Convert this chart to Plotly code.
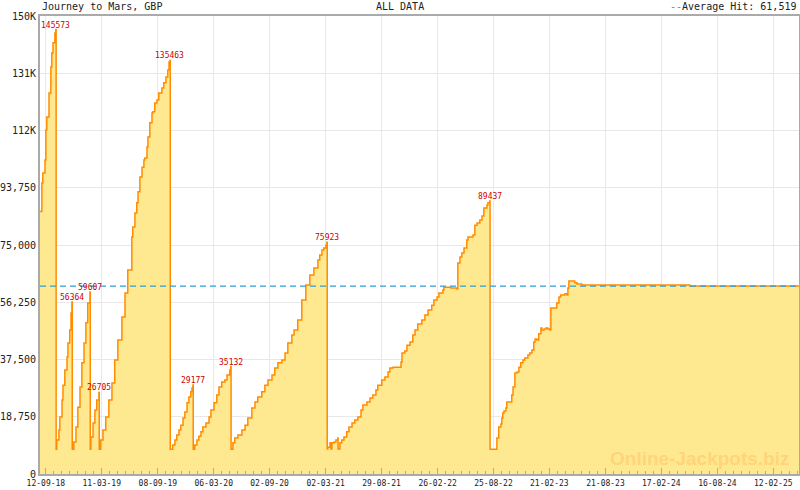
import plotly.graph_objects as go

# ---------------- data ----------------
cycle1_dates = ["2018-08-24", "2018-08-30", "2018-09-02", "2018-09-09", "2018-09-12", "2018-09-15",
                "2018-09-22", "2018-09-28", "2018-10-01", "2018-10-05", "2018-10-11", "2018-10-14"]
cycle1_vals = [86000, 95300, 98600, 102800, 112700, 116900, 124800, 133300, 137900, 141200, 144400, 145573]

cycle2_dates = ["2018-10-15", "2018-10-17", "2018-10-24", "2018-10-27", "2018-11-03", "2018-11-06",
                "2018-11-12", "2018-11-19", "2018-11-22", "2018-11-28", "2018-12-02", "2018-12-05"]
cycle2_vals = [8100, 11100, 14400, 18700, 24200, 29100, 34100, 38300, 42900, 47200, 52700, 56364]

cycle3_dates = ["2018-12-06", "2018-12-11", "2018-12-18", "2018-12-24", "2018-12-31", "2019-01-06",
                "2019-01-13", "2019-01-19", "2019-01-25", "2019-02-01"]
cycle3_vals = [8100, 10500, 15400, 21900, 28500, 36400, 42900, 49500, 56000, 59607]

cycle4_dates = ["2019-02-02", "2019-02-04", "2019-02-11", "2019-02-17", "2019-02-23", "2019-03-02"]
cycle4_vals = [8100, 12100, 16700, 21000, 24200, 26705]

cycle5_dates = ["2019-03-03", "2019-03-08", "2019-03-15", "2019-03-24", "2019-04-03", "2019-04-13",
                "2019-04-22", "2019-05-02", "2019-05-15", "2019-05-25", "2019-06-03", "2019-06-16",
                "2019-06-19", "2019-06-26", "2019-07-02", "2019-07-06", "2019-07-12", "2019-07-19",
                "2019-07-25", "2019-07-28", "2019-08-04", "2019-08-07", "2019-08-13", "2019-08-20",
                "2019-08-23", "2019-08-29", "2019-09-05", "2019-09-11", "2019-09-21", "2019-09-27",
                "2019-10-04", "2019-10-10", "2019-10-14", "2019-10-17"]
cycle5_vals = [8100, 11100, 14400, 18700, 24200, 29800, 37300, 43900, 51400, 59300, 66800, 77600,
               80900, 85500, 88800, 92400, 97300, 100500, 102800, 103500, 107100, 110400, 115000, 118200,
               118600, 121500, 122500, 124800, 126400, 128100, 130000, 132300, 134900, 135463]

cycle6_dates = ["2019-10-18", "2019-10-26", "2019-11-02", "2019-11-08", "2019-11-15", "2019-11-21",
                "2019-11-28", "2019-12-04", "2019-12-11", "2019-12-17", "2019-12-23", "2019-12-27",
                "2019-12-30"]
cycle6_vals = [8100, 9500, 11100, 12800, 14400, 16000, 18300, 20300, 23300, 25200, 26900, 28200, 29177]

cycle7_dates = ["2019-12-31", "2020-01-05", "2020-01-12", "2020-01-18", "2020-01-25", "2020-01-31",
                "2020-02-10", "2020-02-20", "2020-02-26", "2020-03-07", "2020-03-16", "2020-03-23",
                "2020-04-01", "2020-04-11", "2020-04-18", "2020-04-27", "2020-04-30"]
cycle7_vals = [8100, 9500, 11100, 12400, 13800, 15400, 16700, 18700, 21000, 23300, 25900, 28500,
               30100, 30800, 32400, 34100, 35132]

cycle8_dates = ["2020-05-01", "2020-05-07", "2020-05-13", "2020-05-23", "2020-06-05", "2020-06-15",
                "2020-06-24", "2020-07-07", "2020-07-17", "2020-07-26", "2020-08-08", "2020-08-18",
                "2020-08-28", "2020-09-10", "2020-09-19", "2020-09-29", "2020-10-12", "2020-10-22",
                "2020-10-31", "2020-11-13", "2020-11-20", "2020-12-02", "2020-12-15", "2020-12-28",
                "2021-01-10", "2021-01-23", "2021-02-05", "2021-02-11", "2021-02-18", "2021-02-24",
                "2021-03-03", "2021-03-06"]
cycle8_vals = [8100, 10200, 11800, 12800, 14400, 16000, 18300, 21600, 23600, 25200, 26900, 29100,
               30800, 32400, 34700, 36400, 37300, 39600, 42900, 45500, 47200, 50400, 57000, 61900,
               65200, 67500, 70100, 71700, 73400, 74000, 75000, 75923]

cycle9_dates = ["2021-03-07", "2021-03-09", "2021-03-16", "2021-03-19", "2021-03-22", "2021-03-29",
                "2021-04-04", "2021-04-10", "2021-04-11", "2021-04-17", "2021-04-23", "2021-04-30",
                "2021-05-09", "2021-05-16", "2021-05-26", "2021-06-04", "2021-06-14", "2021-06-24",
                "2021-06-30", "2021-07-13", "2021-07-23", "2021-08-01", "2021-08-11", "2021-08-17",
                "2021-08-30", "2021-09-09", "2021-09-19", "2021-09-25", "2021-10-05", "2021-10-31",
                "2021-11-03", "2021-11-12", "2021-11-19", "2021-11-29", "2021-12-08", "2021-12-15",
                "2021-12-24", "2022-01-06", "2022-01-16", "2022-01-26", "2022-02-07", "2022-02-14",
                "2022-02-24", "2022-03-02", "2022-03-15", "2022-03-18", "2022-04-10", "2022-04-29",
                "2022-05-02", "2022-05-09", "2022-05-15", "2022-05-22", "2022-05-31", "2022-06-04",
                "2022-06-20", "2022-06-26", "2022-07-03", "2022-07-12", "2022-07-19", "2022-07-25",
                "2022-08-04", "2022-08-07", "2022-08-13"]
cycle9_vals = [8200, 8800, 10200, 8200, 10200, 10500,
               11100, 11800, 8200, 10200, 11100, 12100,
               13800, 15400, 16700, 17700, 18700, 21000,
               22600, 23600, 24900, 25900, 27500, 29100,
               30800, 31800, 33400, 34700, 35000, 36700,
               39600, 40300, 42200, 43200, 45500, 47200,
               49100, 50400, 52100, 53700, 55300, 57000,
               58000, 59300, 60300, 61200, 60900, 60600,
               69100, 71100, 72400, 74000, 76600, 77600,
               78300, 81500, 82200, 83200, 84500, 87100,
               88100, 88800, 89437]

cycle10_dates = ["2022-08-14", "2022-09-05", "2022-09-11", "2022-09-18", "2022-09-21", "2022-09-24",
                 "2022-09-28", "2022-10-04", "2022-10-07", "2022-10-23", "2022-10-27", "2022-11-02",
                 "2022-11-09", "2022-11-15", "2022-11-21", "2022-11-28", "2022-12-04", "2022-12-14",
                 "2022-12-20", "2022-12-27", "2023-01-02", "2023-01-06", "2023-01-12", "2023-01-18",
                 "2023-01-25", "2023-01-28", "2023-02-04", "2023-02-10", "2023-02-16", "2023-02-23",
                 "2023-02-26", "2023-03-17", "2023-03-24", "2023-03-30", "2023-04-12", "2023-04-19",
                 "2023-04-22", "2023-04-25", "2023-05-08", "2023-05-14", "2023-05-21", "2023-06-06",
                 "2024-05-19", "2025-05-06"]
cycle10_vals = [8100, 11800, 15400, 16400, 18300, 20000,
                20600, 21600, 23600, 25900, 28500, 33100,
                33400, 35000, 36400, 37300, 38000, 39000,
                39600, 40600, 43200, 44200, 43900, 45900,
                47800, 47200, 47500, 47800, 47500, 47200,
                54400, 56000, 58000, 58600, 59000, 58600,
                60900, 63200, 63200, 62600, 62200, 61900,
                61600, 61600]

peak_dates = ["2018-10-14", "2018-12-05", "2019-02-01", "2019-03-02", "2019-10-17",
              "2019-12-30", "2020-04-30", "2021-03-06", "2022-08-13"]
peak_vals = [145573, 56364, 59607, 26705, 135463, 29177, 35132, 75923, 89437]

average_hit = 61519

x_tick_dates = ["2018-09-12", "2019-03-11", "2019-09-08", "2020-03-06", "2020-09-02", "2021-03-02",
                "2021-08-29", "2022-02-26", "2022-08-25", "2023-02-21", "2023-08-21", "2024-02-17",
                "2024-08-16", "2025-02-12"]
x_tick_text = ["12-09-18", "11-03-19", "08-09-19", "06-03-20", "02-09-20", "02-03-21", "29-08-21",
               "26-02-22", "25-08-22", "21-02-23", "21-08-23", "17-02-24", "16-08-24", "12-02-25"]
y_tick_vals = [0, 18750, 37500, 56250, 75000, 93750, 112500, 131250, 150000]
y_tick_text = ["0", "18,750", "37,500", "56,250", "75,000", "93,750", "112K", "131K", "150K"]

x_start, x_end = "2018-08-24", "2025-05-06"

# ---------------- figure ----------------
all_dates = (cycle1_dates + cycle2_dates + cycle3_dates + cycle4_dates + cycle5_dates +
             cycle6_dates + cycle7_dates + cycle8_dates + cycle9_dates + cycle10_dates)
all_vals = (cycle1_vals + cycle2_vals + cycle3_vals + cycle4_vals + cycle5_vals +
            cycle6_vals + cycle7_vals + cycle8_vals + cycle9_vals + cycle10_vals)

MONO = "DejaVu Sans Mono"

fig = go.Figure()
fig.add_trace(go.Scatter(
    x=all_dates, y=all_vals, mode="lines", line=dict(color="#FF8C00", width=1.5, shape="hv"),
    fill="tozeroy", fillcolor="#FFE990", hoverinfo="skip", showlegend=False))
fig.add_trace(go.Scatter(
    x=[x_start, x_end], y=[average_hit, average_hit], mode="lines",
    line=dict(color="#2A9FD6", width=1.3, dash="6px,4px"), hoverinfo="skip", showlegend=False))

annotations = []
for d, v in zip(peak_dates, peak_vals):
    annotations.append(dict(x=d, y=v, xref="x", yref="y", text=str(v), showarrow=False,
                            xanchor="center", yanchor="bottom", yshift=-2,
                            font=dict(family=MONO, size=8, color="#CC0000")))

annotations += [
    dict(x=0, y=1, xref="paper", yref="paper", text="Journey to Mars, GBP", showarrow=False,
         xanchor="left", yanchor="middle", yshift=10, xshift=0,
         font=dict(family=MONO, size=10, color="#222222")),
    dict(x=0.474, y=1, xref="paper", yref="paper", text="ALL DATA", showarrow=False,
         xanchor="center", yanchor="middle", yshift=10,
         font=dict(family=MONO, size=10, color="#222222")),
    dict(x=1, y=1, xref="paper", yref="paper",
         text="<span style='color:#2A9FD6'>--</span>Average Hit: 61,519", showarrow=False,
         xanchor="right", yanchor="middle", yshift=10, xshift=-1,
         font=dict(family=MONO, size=10, color="#222222")),
    dict(x=0.99, y=0, xref="paper", yref="paper", text="<b>Online-Jackpots.biz</b>", showarrow=False,
         xanchor="right", yanchor="bottom", yshift=3,
         font=dict(family="Liberation Sans", size=19, color="#FFD47A")),
]

fig.update_layout(
    width=800, height=490,
    margin=dict(l=40, r=1, t=16, b=16, autoexpand=False),
    paper_bgcolor="white", plot_bgcolor="white",
    annotations=annotations,
    xaxis=dict(
        type="date", range=[x_start, x_end],
        tickmode="array", tickvals=x_tick_dates, ticktext=x_tick_text,
        ticks="inside", ticklen=6, tickcolor="#AAAAAA", tickwidth=1,
        minor=dict(ticks="inside", ticklen=3, tickcolor="#AAAAAA",
                   tick0="2018-09-12", dtick=180.5 / 7 * 86400000, showgrid=False),
        showgrid=True, gridcolor="#E8E8E8", gridwidth=1,
        showline=True, linecolor="#AAAAAA", linewidth=2, mirror=True,
        tickfont=dict(family=MONO, size=8, color="#222222"),
        zeroline=False, fixedrange=True, automargin=False,
    ),
    yaxis=dict(
        range=[0, 150000], tickmode="array", tickvals=y_tick_vals, ticktext=y_tick_text,
        ticks="", showgrid=True, gridcolor="#E8E8E8", gridwidth=1,
        showline=True, linecolor="#AAAAAA", linewidth=2, mirror=True,
        tickfont=dict(family=MONO, size=10, color="#222222"),
        zeroline=False, fixedrange=True, automargin=False,
    ),
)

fig.write_html("out.html", config={"displayModeBar": False},
               post_script="document.body.style.margin='0px';document.body.style.overflow='hidden';")
